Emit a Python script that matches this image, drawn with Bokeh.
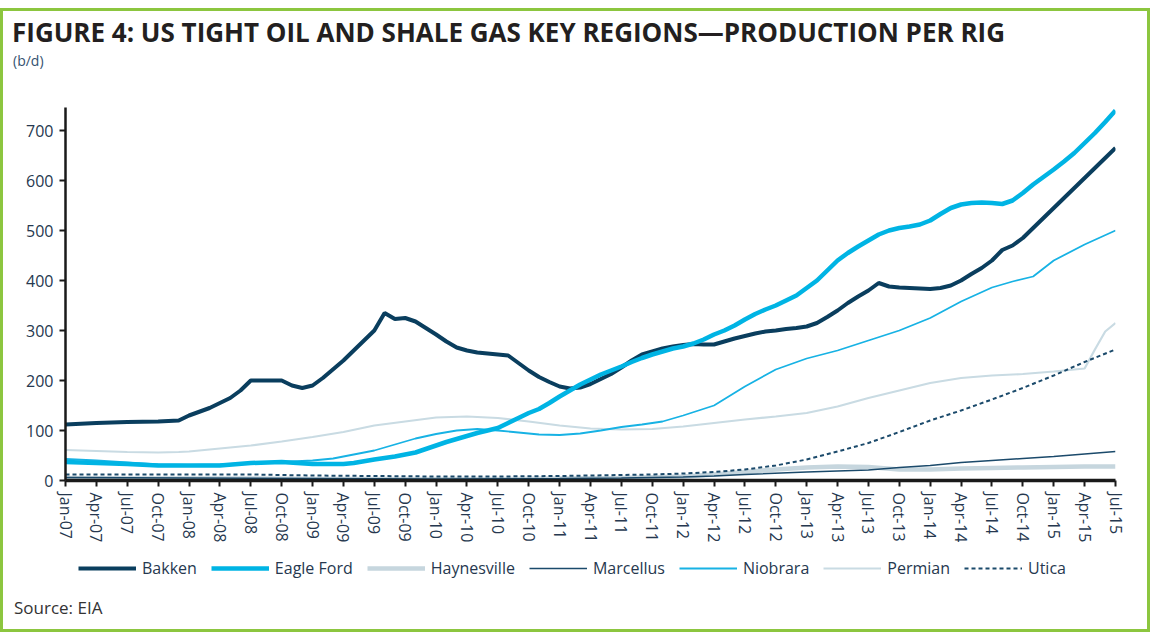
from bokeh.plotting import figure
from bokeh.layouts import column
from bokeh.models import Range1d, FixedTicker, Legend, LegendItem, Div
from bokeh.embed import file_html
from bokeh.resources import INLINE

# ---------------- data (month index: 0 = Jan-07 ... 102 = Jul-15) ----------------
tick_months = list(range(0, 103, 3))
tick_labels = ["Jan-07", "Apr-07", "Jul-07", "Oct-07", "Jan-08", "Apr-08", "Jul-08", "Oct-08",
               "Jan-09", "Apr-09", "Jul-09", "Oct-09", "Jan-10", "Apr-10", "Jul-10", "Oct-10",
               "Jan-11", "Apr-11", "Jul-11", "Oct-11", "Jan-12", "Apr-12", "Jul-12", "Oct-12",
               "Jan-13", "Apr-13", "Jul-13", "Oct-13", "Jan-14", "Apr-14", "Jul-14", "Oct-14",
               "Jan-15", "Apr-15", "Jul-15"]

bakken_m = [0, 3, 6, 9, 11, 12, 14, 16, 17, 18, 19, 20, 21, 22, 23, 24, 25, 27, 29, 30, 31, 32, 33,
            34, 35, 36, 37, 38, 39, 40, 42, 43, 44, 45, 46, 47, 48, 49, 50, 51, 52, 53, 54, 55, 56,
            57, 58, 59, 60, 61, 62, 63, 64, 65, 66, 67, 68, 69, 70, 71, 72, 73, 74, 75, 76, 77, 78,
            79, 80, 81, 82, 83, 84, 85, 86, 87, 88, 89, 90, 91, 92, 93, 94, 95, 96, 97, 98, 99, 100,
            101, 102]
bakken_v = [112, 115, 117, 118, 120, 130, 145, 165, 180, 200, 200, 200, 200, 190, 185, 190, 205,
            240, 280, 300, 335, 323, 325, 318, 305, 292, 278, 266, 260, 256, 252, 250, 235, 220,
            207, 197, 188, 184, 186, 193, 203, 213, 226, 240, 252, 258, 264, 268, 271, 273, 272,
            272, 278, 284, 289, 294, 298, 300, 303, 305, 308, 315, 327, 340, 355, 368, 380, 395,
            388, 386, 385, 384, 383, 385, 390, 400, 413, 425, 440, 461, 470, 485, 505, 525, 545,
            565, 585, 605, 625, 645, 665]

eagle_m = [0, 3, 6, 9, 12, 15, 18, 21, 24, 27, 28, 30, 32, 33, 34, 36, 37, 38, 39, 40, 41, 42, 43,
           44, 45, 46, 47, 48, 49, 50, 51, 52, 53, 54, 55, 56, 57, 58, 59, 60, 61, 62, 63, 64, 65,
           66, 67, 68, 69, 70, 71, 72, 73, 74, 75, 76, 77, 78, 79, 80, 81, 82, 83, 84, 85, 86, 87,
           88, 89, 90, 91, 92, 93, 94, 95, 96, 97, 98, 99, 100, 101, 102]
eagle_v = [37, 35, 33, 30, 30, 30, 35, 37, 33, 33, 35, 42, 48, 52, 56, 70, 77, 83, 89, 95, 100,
           105, 115, 125, 135, 143, 155, 168, 180, 192, 202, 212, 220, 228, 237, 245, 252, 258,
           264, 268, 274, 282, 292, 300, 310, 322, 333, 342, 350, 360, 370, 385, 400, 420, 440,
           455, 468, 480, 492, 500, 505, 508, 512, 520, 533, 545, 552, 555, 556, 555, 553, 560,
           575, 592, 607, 622, 638, 655, 675, 695, 717, 740]

hay_m = [0, 6, 12, 18, 24, 30, 36, 42, 48, 54, 60, 63, 66, 69, 72, 75, 78, 81, 84, 87, 90, 93, 96,
         99, 102]
hay_v = [5, 4, 4, 4, 3, 3, 3, 3, 4, 5, 8, 12, 17, 22, 26, 28, 27, 22, 22, 24, 25, 26, 27, 28, 28]

marc_m = [0, 12, 24, 36, 48, 54, 60, 63, 66, 72, 78, 81, 84, 87, 90, 93, 96, 99, 102]
marc_v = [6, 5, 4, 3, 4, 5, 7, 9, 12, 17, 21, 26, 30, 36, 40, 44, 48, 53, 58]

niob_m = [0, 3, 6, 9, 12, 15, 18, 21, 24, 26, 28, 30, 32, 34, 36, 38, 40, 42, 44, 46, 48, 50, 52,
          54, 56, 58, 60, 63, 66, 69, 72, 75, 78, 81, 84, 87, 90, 92, 94, 96, 99, 102]
niob_v = [43, 40, 36, 32, 31, 32, 35, 37, 40, 44, 52, 60, 72, 84, 93, 100, 103, 100, 96, 92, 91,
          94, 100, 107, 112, 118, 130, 150, 188, 222, 244, 260, 280, 300, 325, 358, 386, 398, 408,
          440, 472, 500]

perm_m = [0, 3, 6, 9, 11, 12, 15, 18, 21, 24, 27, 30, 33, 36, 39, 42, 45, 48, 51, 54, 57, 60, 63,
          66, 69, 72, 75, 78, 81, 84, 87, 90, 93, 96, 98, 99, 100, 101, 102]
perm_v = [61, 59, 57, 56, 57, 58, 64, 70, 78, 87, 97, 110, 118, 126, 128, 125, 118, 110, 104, 102,
          103, 108, 115, 122, 128, 135, 148, 165, 180, 195, 205, 210, 213, 218, 222, 224, 262,
          298, 315]

utica_m = [0, 6, 12, 18, 21, 24, 30, 36, 42, 48, 54, 57, 60, 63, 66, 69, 72, 75, 78, 81, 84, 87,
           90, 93, 96, 99, 102]
utica_v = [12, 12, 12, 12, 11, 10, 9, 8, 8, 9, 11, 12, 14, 17, 22, 30, 42, 58, 75, 97, 120, 140,
           162, 185, 210, 237, 262]

series_names = ["Bakken", "Eagle Ford", "Haynesville", "Marcellus", "Niobrara", "Permian", "Utica"]
series_x = [bakken_m, eagle_m, hay_m, marc_m, niob_m, perm_m, utica_m]
series_y = [bakken_v, eagle_v, hay_v, marc_v, niob_v, perm_v, utica_v]

title_text = "FIGURE 4: US TIGHT OIL AND SHALE GAS KEY REGIONS\u2014PRODUCTION PER RIG"
unit_text = "(b/d)"
source_text = "Source: EIA"

# ---------------- styles ----------------
FONT = "Open Sans"
TXT = "#26384f"
styles = [
    dict(line_color="#0a3e5e", line_width=4),                      # Bakken
    dict(line_color="#00b4e4", line_width=4.5),                    # Eagle Ford
    dict(line_color="#c6d6de", line_width=4.5),                    # Haynesville
    dict(line_color="#1b4a6b", line_width=1.6),                    # Marcellus
    dict(line_color="#17b2e4", line_width=1.8),                    # Niobrara
    dict(line_color="#c9dbe3", line_width=2.2),                    # Permian
    dict(line_color="#1b4a6b", line_width=2, line_dash="4 3"),     # Utica
]
draw_order = [2, 5, 3, 6, 4, 0, 1]
W = 1144

# ---------------- header ----------------
H0 = 70
header = Div(width=W, height=H0, styles={"margin": "0", "padding": "0"},
             text=(f'<div style="position:relative;width:{W}px;height:{H0}px;overflow:hidden;">'
                   f'<div style="position:absolute;left:9px;top:6px;white-space:nowrap;'
                   f'font-family:\'Open Sans\';font-weight:bold;font-size:26px;line-height:30px;'
                   f'color:#231f20;">{title_text}</div>'
                   f'<div style="position:absolute;left:10px;top:41px;white-space:nowrap;'
                   f'font-family:\'Open Sans\';font-size:14px;line-height:18px;'
                   f'color:#34516f;">{unit_text}</div></div>'))

# ---------------- main chart ----------------
H1 = 471
p = figure(width=W, height=H1, output_backend="svg", toolbar_location=None, title=None,
           x_range=Range1d(0, 102), y_range=Range1d(0, 746),
           min_border_left=62, min_border_right=32, min_border_top=26, min_border_bottom=72)
p.outline_line_color = None
p.xgrid.visible = False
p.ygrid.visible = False

p.yaxis.ticker = FixedTicker(ticks=list(range(0, 701, 100)))
p.yaxis.axis_line_color = "#1a1a1a"
p.yaxis.axis_line_width = 2.5
p.yaxis.major_tick_line_color = "#1a1a1a"
p.yaxis.major_tick_line_width = 2
p.yaxis.major_tick_out = 6
p.yaxis.major_tick_in = 0
p.yaxis.minor_tick_line_color = None
p.yaxis.major_label_text_font = FONT
p.yaxis.major_label_text_font_size = "16px"
p.yaxis.major_label_text_color = TXT
p.yaxis.major_label_standoff = 6

p.xaxis.ticker = FixedTicker(ticks=tick_months)
p.xaxis.major_label_overrides = {m: lab for m, lab in zip(tick_months, tick_labels)}
p.xaxis.major_label_orientation = "vertical"
p.xaxis.axis_line_color = "#1a1a1a"
p.xaxis.axis_line_width = 3.5
p.xaxis.major_tick_line_color = "#1a1a1a"
p.xaxis.major_tick_line_width = 2
p.xaxis.major_tick_out = 6
p.xaxis.major_tick_in = 0
p.xaxis.minor_tick_line_color = None
p.xaxis.major_label_text_font = FONT
p.xaxis.major_label_text_font_size = "16px"
p.xaxis.major_label_text_color = TXT
p.xaxis.major_label_standoff = 6

for i in draw_order:
    p.line(series_x[i], series_y[i], **styles[i])

# ---------------- legend strip ----------------
H2 = 45
p2 = figure(width=W, height=H2, output_backend="svg", toolbar_location=None, title=None,
            x_axis_type=None, y_axis_type=None, x_range=Range1d(200, 201),
            y_range=Range1d(2000, 2001), min_border=0, min_border_left=0, min_border_right=0,
            min_border_top=0, min_border_bottom=0)
p2.outline_line_color = None
p2.xgrid.visible = False
p2.ygrid.visible = False
legend_renderers = []
for i in range(len(series_names)):
    r = p2.line(series_x[i], series_y[i], **styles[i])
    r.visible = False          # the series are drawn in the main chart; these only key the legend
    legend_renderers.append(r)
legend = Legend(items=[LegendItem(label=n, renderers=[r])
                       for n, r in zip(series_names, legend_renderers)],
                orientation="horizontal", location=(13, 18),
                glyph_width=58, glyph_height=20, label_standoff=6, spacing=14,
                padding=0, margin=0, border_line_color=None, background_fill_alpha=0,
                inactive_fill_alpha=0,
                label_text_font=FONT, label_text_font_size="16px", label_text_color=TXT)
p2.add_layout(legend, "center")

# ---------------- source ----------------
H3 = 32
footer = Div(width=W, height=H3, styles={"margin": "0", "padding": "0"},
             text=(f'<div style="position:relative;width:{W}px;height:{H3}px;overflow:hidden;">'
                   f'<div style="position:absolute;left:11px;top:1px;white-space:nowrap;'
                   f'font-family:\'Open Sans\';font-size:17px;line-height:20px;'
                   f'color:#333333;">{source_text}</div></div>'))

layout = column(header, p, p2, footer, spacing=0,
                styles={"border": "3px solid #8cc63f", "margin-top": "8px"})

open("out.html", "w").write(file_html(layout, INLINE))
